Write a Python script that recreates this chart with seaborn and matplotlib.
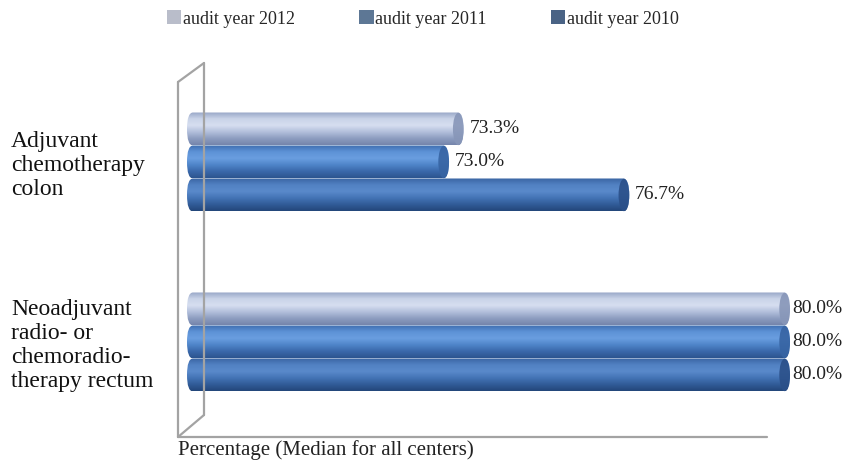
import numpy as np
import pandas as pd
import matplotlib
matplotlib.use("Agg")
import matplotlib.pyplot as plt
import seaborn as sns
from matplotlib.colors import LinearSegmentedColormap
from matplotlib.patches import FancyBboxPatch, Ellipse, Patch
from matplotlib.lines import Line2D
from matplotlib.transforms import IdentityTransform, blended_transform_factory

# ---- data -------------------------------------------------------------
measures = ["Adjuvant\nchemotherapy\ncolon",
            "Neoadjuvant\nradio- or\nchemoradio-\ntherapy rectum"]
years = ["audit year 2012", "audit year 2011", "audit year 2010"]
values_2012 = [73.3, 80.0]
values_2011 = [73.0, 80.0]
values_2010 = [76.7, 80.0]
x_label = "Percentage (Median for all centers)"

df = pd.DataFrame({
    "measure": measures * 3,
    "year": [years[0]] * 2 + [years[1]] * 2 + [years[2]] * 2,
    "value": values_2012 + values_2011 + values_2010,
})

# ---- styling ----------------------------------------------------------
sns.set_style("white")
plt.rcParams["font.family"] = ["Liberation Serif", "DejaVu Serif"]

base = {years[0]: "#b3c0dc", years[1]: "#4f85c9", years[2]: "#4474b6"}
shades = {
    years[0]: ["#97a6c6", "#c9d3e8", "#d6def0", "#b3c0dc", "#8d9dc0", "#7585ab"],
    years[1]: ["#3f6eb0", "#5d92d6", "#6a9ee0", "#4f85c9", "#3a68aa", "#2c548f"],
    years[2]: ["#3a64a2", "#5181c2", "#5a8acb", "#4474b6", "#315c98", "#23467a"],
}
caps = {years[0]: "#8796b8", years[1]: "#3764a3", years[2]: "#2b5089"}
legend_cols = {years[0]: "#b9bdca", years[1]: "#5d7795", years[2]: "#4a6385"}

W, H = 847, 463
fig = plt.figure(figsize=(W / 100, H / 100), dpi=100)
ax = fig.add_axes([186 / W, 1 - 437 / H, 1 - 186 / W, (437 - 63) / H])
ax.patch.set_alpha(0)

sns.barplot(data=df, y="measure", x="value", hue="year", hue_order=years,
            order=measures, palette=base, width=0.55, orient="h",
            saturation=1, legend=False, ax=ax)

XLO, XHI = 67.6, 81.17
YLO, YHI = 1.528, -0.55
ax.set_xlim(XLO, XHI)
ax.set_ylim(YLO, YHI)
for s in ax.spines.values():
    s.set_visible(False)
ax.set_xticks([])
ax.set_yticks([])
ax.set_xlabel("")
ax.set_ylabel("")


def px(x, y):
    """Pixel position (origin top-left) to figure fraction."""
    return x / W, 1 - y / H


# 3D back wall and floor outline
wall = [
    [(178, 82), (178, 437)],
    [(178, 82), (204, 63)],
    [(204, 63), (204, 415)],
    [(178, 437), (204, 415)],
    [(178, 437), (767, 437)],
]
for seg in wall:
    (x0, y0), (x1, y1) = [px(*p) for p in seg]
    fig.add_artist(Line2D([x0, x1], [y0, y1], transform=fig.transFigure,
                          color="#a3a3a3", lw=1.6, zorder=0.5))

fig.canvas.draw()
left_px = ax.transData.transform((XLO, 0))[0] + 1
cap_w = 0.22

# Cylinder-shaded bars drawn over the seaborn bars
for container, year in zip(ax.containers, years):
    cmap = LinearSegmentedColormap.from_list(year, shades[year])
    grad = np.linspace(0, 1, 128).reshape(-1, 1)
    for bar in container:
        y = bar.get_y()
        h = bar.get_height()
        end = bar.get_x() + bar.get_width()
        yc = y + h / 2
        bar.set_visible(False)

        (x0p, ytop), (x1p, ybot) = ax.transData.transform([(XLO, y), (end, y + h)])
        y0p, y1p = min(ytop, ybot), max(ytop, ybot)
        hp = y1p - y0p
        r = 6
        shape = FancyBboxPatch((left_px, y0p), x1p - left_px, hp,
                               boxstyle=f"round,pad=0,rounding_size={r}",
                               mutation_aspect=(hp / 2) / r,
                               transform=IdentityTransform(),
                               facecolor="none", edgecolor="none")
        im = ax.imshow(grad, cmap=cmap, aspect="auto", origin="upper",
                       extent=[XLO, end, y + h, y], interpolation="bilinear",
                       zorder=2)
        im.set_clip_path(shape)

        ax.add_patch(Ellipse((end - cap_w / 2, yc), cap_w, h * 0.98,
                             facecolor=caps[year], edgecolor="none",
                             alpha=0.9, zorder=3))

        if end < 79:
            ax.text(end + 0.12, yc, f"{end:.1f}%", ha="left", va="center",
                    fontsize=14, color="#222222", zorder=4,
                    bbox=dict(boxstyle="square,pad=0.1", fc="white", ec="none"))
        else:
            ax.text(end + 0.05, yc, f"{end:.1f}%", ha="left", va="center",
                    fontsize=14, color="#222222", zorder=4, clip_on=False)

ax.set_xlim(XLO, XHI)
ax.set_ylim(YLO, YHI)

# category labels on the left
trans = blended_transform_factory(fig.transFigure, ax.transData)
for i, name in enumerate(measures):
    ax.text(11 / W, i + 0.02, name, transform=trans, ha="left", va="center",
            fontsize=17, color="#111111", clip_on=False)

fig.text(*px(178, 450), x_label, ha="left", va="center", fontsize=15,
         color="#222222")

handles = [Patch(facecolor=legend_cols[y], edgecolor="none") for y in years]
fig.legend(handles, years, loc="center", bbox_to_anchor=px(423, 19),
           ncol=3, frameon=False, fontsize=13, handlelength=0.8,
           handleheight=0.8, handletextpad=0.1, columnspacing=3.55,
           borderpad=0)

fig.savefig("out.png", dpi=100)
